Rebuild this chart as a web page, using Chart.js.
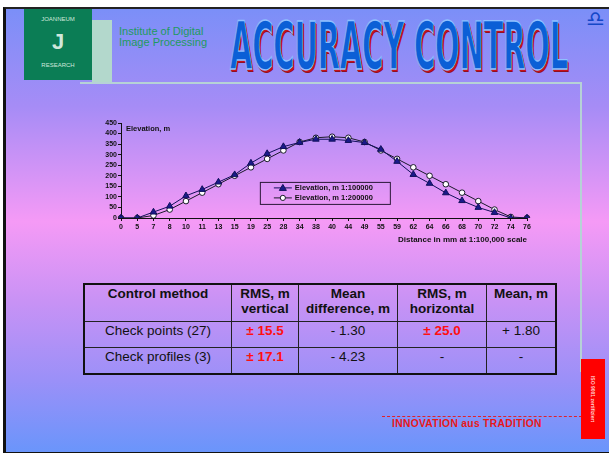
<!doctype html>
<html>
<head>
<meta charset="utf-8">
<title>Accuracy control</title>
<script src="https://cdn.jsdelivr.net/npm/chart.js@4.4.0/dist/chart.umd.min.js"></script>
<style>
  body { margin: 0; width: 609px; height: 453px; background: #fff; overflow: hidden; font-family: "Liberation Sans", Arial, sans-serif; }
  #slide {
    position: absolute; left: 3px; top: 7px; width: 606px; height: 443px;
    border-left: 3px solid #111; border-top: 2px solid #222; border-bottom: 3px solid #111;
    background: linear-gradient(to bottom, #7b8ff8 0%, #a68cf6 22%, #f59af6 48%, #c892f5 66%, #9a90f8 84%, #6a95fb 100%);
  }
  .abs { position: absolute; }
  #logo { left: 18px; top: 0px; width: 68px; height: 71px; background: #0b7d55; color: #cfe8dc; font-size: 6px; text-align: center; }
  #strip { left: 86px; top: 11px; width: 20px; height: 62px; background: #b3d8cc; }
  #hline { left: 74px; top: 73px; width: 502px; height: 2px; background: #b6d2d6; }
  #vline { left: 574px; top: 73px; width: 2px; height: 290px; background: #b6d2d6; }
  #inst { left: 113px; top: 17px; color: #1f9a5e; font-size: 11px; line-height: 11px; }
  #title { left: 224px; top: 4px; width: 340px; height: 46px; }
  #title span {
    display: inline-block; transform-origin: 0 0; white-space: nowrap;
    font-family: "DejaVu Sans Condensed", "DejaVu Sans", sans-serif; font-weight: bold; font-size: 60px; line-height: 60px;
    color: #0b5fd6; -webkit-text-stroke: 1.2px #8fc0ff;
    text-shadow: 2px 2px 0 #c8101c, 3px 3px 0 #901020;
  }
  #libra { left: 580px; top: -2px; color: #1447c8; font-size: 21px; font-weight: bold; font-family: "DejaVu Sans", sans-serif; }
  #chartbox { left: 92px; top: 106px; width: 445px; height: 130px; }
  table { position: absolute; left: 77px; top: 274px; border-collapse: collapse; border: 2px solid #111; font-size: 13.5px; color: #111; }
  td, th { border: 1px solid #222; text-align: center; padding: 0 2px; }
  th { font-weight: bold; vertical-align: top; height: 35px; line-height: 15px; padding-top: 1px; }
  td { height: 24px; vertical-align: top; padding-top: 1px; padding-bottom: 0; line-height: 16px; }
  .red { color: #ff1010; font-weight: bold; }
  #dash { left: 376px; top: 407px; width: 200px; border-top: 1px dashed #e0202a; }
  #innov { left: 386px; top: 409px; color: #e81818; font-size: 10.3px; font-weight: bold; letter-spacing: 0.3px; }
  #iso { left: 575px; top: 350px; width: 24px; height: 80px; background: #ff0000; }
  #iso span { position: absolute; left: 12px; top: 40px; transform: translate(-50%,-50%) rotate(90deg); white-space: nowrap; color: #ffd0d0; font-size: 5px; font-weight: bold; }
</style>
</head>
<body>
<div id="slide">
  <div class="abs" id="logo"><div style="padding-top:7px">JOANNEUM</div><div style="font-size:22px;line-height:40px;font-weight:bold">J</div><div>RESEARCH</div></div>
  <div class="abs" id="strip"></div>
  <div class="abs" id="hline"></div>
  <div class="abs" id="vline"></div>
  <div class="abs" id="inst">Institute of Digital<br>Image Processing</div>
  <div class="abs" id="title"><span id="titletext">ACCURACY CONTROL</span></div>
  <div class="abs" id="libra">♎</div>
  <div class="abs" id="chartbox"><canvas id="canvas" width="445" height="130"></canvas></div>
  <table>
    <tr><th style="width:142px">Control method</th><th style="width:62px">RMS, m<br>vertical</th><th style="width:94px">Mean<br>difference, m</th><th style="width:84px">RMS, m<br>horizontal</th><th style="width:64px">Mean, m</th></tr>
    <tr><td>Check points (27)</td><td class="red">± 15.5</td><td>- 1.30</td><td class="red">± 25.0</td><td>+ 1.80</td></tr>
    <tr><td style="height:21px">Check profiles (3)</td><td class="red">± 17.1</td><td>- 4.23</td><td>-</td><td>-</td></tr>
  </table>
  <div class="abs" id="dash"></div>
  <div class="abs" id="innov">INNOVATION aus TRADITION</div>
  <div class="abs" id="iso"><span>ISO 9001 zertifiziert</span></div>
</div>
<script>
// fit title into its box
var t = document.getElementById('titletext');
var r = t.getBoundingClientRect();
t.style.transform = 'scale(' + (338 / r.width) + ',' + (48 / 44) + ')';

var distances = ['0','5','7','8','10','11','13','15','19','25','28','34','38','40','44','49','55','59','62','64','66','68','70','72','74','76'];
var elev100k = [0, 0, 28, 56, 105, 135, 170, 205, 260, 305, 338, 358, 373, 373, 367, 357, 325, 268, 206, 164, 119, 82, 50, 26, 0, 0];
var elev200k = [0, 0, 12, 40, 80, 120, 160, 200, 240, 280, 320, 360, 380, 385, 380, 360, 320, 280, 240, 200, 160, 120, 80, 40, 5, 0];
var yTicks = { min: 0, max: 450, step: 50 };

var tickFont = { family: 'Liberation Sans', size: 7, weight: 'bold' };

// legend box and inner label, drawn inside the plot area
var insidePlugin = {
  id: 'inside',
  afterDatasetsDraw: function(chart) {
    var ctx = chart.ctx, a = chart.chartArea;
    ctx.save();
    ctx.font = 'bold 7.5px "Liberation Sans"';
    ctx.fillStyle = '#111';
    ctx.textBaseline = 'middle';
    ctx.textAlign = 'left';
    ctx.fillText('Elevation, m', a.left + 5, a.top + 6);

    var bx = a.left + (a.right - a.left) * 0.342, by = a.top + (a.bottom - a.top) * 0.62;
    var bw = 130, bh = 22;
    ctx.strokeStyle = '#2a1838';
    ctx.lineWidth = 1;
    ctx.strokeRect(bx + 0.5, by + 0.5, bw, bh);
    chart.data.datasets.forEach(function(ds, i) {
      var yy = by + 6 + i * 10;
      ctx.strokeStyle = ds.borderColor;
      ctx.beginPath(); ctx.moveTo(bx + 14, yy); ctx.lineTo(bx + 32, yy); ctx.stroke();
      var cx = bx + 23;
      ctx.fillStyle = ds.pointBackgroundColor;
      ctx.strokeStyle = ds.pointBorderColor;
      ctx.beginPath();
      if (ds.pointStyle === 'triangle') {
        ctx.moveTo(cx, yy - 3.5); ctx.lineTo(cx + 3.5, yy + 2.5); ctx.lineTo(cx - 3.5, yy + 2.5); ctx.closePath();
      } else {
        ctx.arc(cx, yy, 2.6, 0, Math.PI * 2);
      }
      ctx.fill(); ctx.stroke();
      ctx.fillStyle = '#111';
      ctx.fillText(ds.label, bx + 35, yy + 0.5);
    });
    ctx.restore();
  }
};

new Chart(document.getElementById('canvas').getContext('2d'), {
  type: 'line',
  data: {
    labels: distances,
    datasets: [{
      label: 'Elevation, m 1:100000',
      data: elev100k,
      borderColor: '#10105a',
      borderWidth: 1,
      pointStyle: 'triangle',
      pointRadius: 3.8,
      pointBackgroundColor: '#1a1a8a',
      pointBorderColor: '#10105a',
      pointBorderWidth: 1,
      tension: 0
    }, {
      label: 'Elevation, m 1:200000',
      data: elev200k,
      borderColor: '#1a1a2a',
      borderWidth: 1,
      pointStyle: 'circle',
      pointRadius: 2.8,
      pointBackgroundColor: '#ffffff',
      pointBorderColor: '#1a1a2a',
      pointBorderWidth: 1,
      tension: 0
    }]
  },
  options: {
    responsive: false,
    animation: false,
    layout: { padding: { left: 0, right: 16, top: 8, bottom: 0 } },
    plugins: { legend: { display: false }, tooltip: { enabled: false } },
    scales: {
      x: {
        offset: false,
        grid: { display: true, drawOnChartArea: false, drawTicks: true, tickLength: 3, color: '#111' },
        border: { display: true, color: '#111', width: 1 },
        ticks: { color: '#111', font: tickFont, padding: 2, maxRotation: 0, autoSkip: false },
        title: { display: true, text: 'Distance in mm at 1:100,000 scale', align: 'end', color: '#111',
                 font: { family: 'Liberation Sans', size: 8, weight: 'bold' }, padding: { top: 2, bottom: 0 } },
        afterFit: function(s) { s.height = 27; }
      },
      y: {
        min: yTicks.min, max: yTicks.max,
        grid: { display: true, drawOnChartArea: false, drawTicks: true, tickLength: 3, color: '#111' },
        border: { display: true, color: '#111', width: 1 },
        ticks: { stepSize: yTicks.step, color: '#111', font: tickFont, padding: 1, autoSkip: false },
        afterFit: function(s) { s.width = 23; }
      }
    }
  },
  plugins: [insidePlugin]
});
</script>
</body>
</html>
